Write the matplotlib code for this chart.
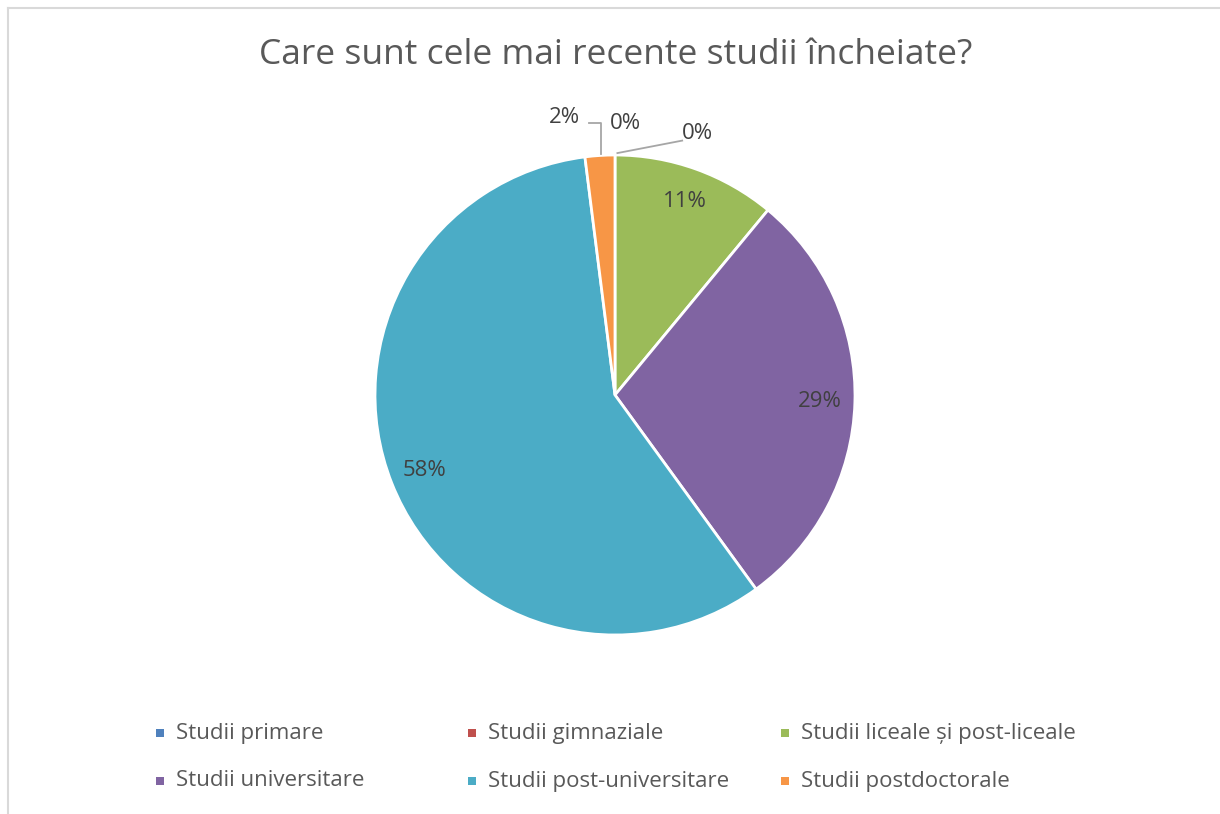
import numpy as np
import matplotlib.pyplot as plt
from matplotlib.lines import Line2D
from matplotlib.patches import Rectangle

# Datos
categorias = ['Studii primare', 'Studii gimnaziale', 'Studii liceale și post-liceale',
              'Studii universitare', 'Studii post-universitare', 'Studii postdoctorale']
valores = [0, 0, 11, 29, 58, 2]
colores = ['#4F81BD', '#C0504D', '#9BBB59', '#8064A2', '#4BACC6', '#F79646']
titulo = 'Care sunt cele mai recente studii încheiate?'

plt.rcParams['font.family'] = ['Open Sans', 'DejaVu Sans']
gris = '#595959'
oscuro = '#404040'

fig = plt.figure(figsize=(12.2, 8.14), dpi=100)
W, H = 1220, 814

# borde del gráfico (izquierda y arriba)
fig.add_artist(Line2D([8 / W, 8 / W], [0, 1 - 7.5 / H], color='#D9D9D9', lw=1.5))
fig.add_artist(Line2D([8 / W, 1], [1 - 7.5 / H, 1 - 7.5 / H], color='#D9D9D9', lw=1.5))

cx, cy, r = 615, 395, 240
ax = fig.add_axes([(cx - r) / W, (H - cy - r) / H, 2 * r / W, 2 * r / H])

total = sum(valores)
wedges, _ = ax.pie(valores, colors=colores, startangle=90, counterclock=False,
                   wedgeprops=dict(edgecolor='white', linewidth=2))
ax.set_xlim(-1, 1)
ax.set_ylim(-1, 1)
ax.set_aspect('equal')
ax.axis('off')

# etiquetas de porcentaje dentro de los sectores grandes
acum = 0
for v in valores:
    medio = np.deg2rad(90 - (acum + v / 2) / total * 360)
    acum += v
    if v >= 5:
        ax.text(0.855 * np.cos(medio), 0.855 * np.sin(medio), f'{v}%',
                ha='center', va='center', fontsize=16, color=oscuro)

# etiquetas pequeñas con líneas guía
ax.plot([-0.11, -0.058, -0.058], [1.135, 1.135, 1.005], color='#A6A6A6', lw=1.3, clip_on=False)
ax.text(-0.21, 1.155, f'{valores[5]}%', ha='center', va='center', fontsize=16, color=oscuro)
ax.text(0.045, 1.13, f'{valores[0]}%', ha='center', va='center', fontsize=16, color=oscuro)
ax.plot([0.01, 0.28], [1.008, 1.06], color='#A6A6A6', lw=1.3, clip_on=False)
ax.text(0.345, 1.09, f'{valores[1]}%', ha='center', va='center', fontsize=16, color=oscuro)

fig.text(616 / W, 1 - 55 / H, titulo, ha='center', va='center', fontsize=25.5, color=gris)

# leyenda (por filas, tres columnas)
col_x = [160, 472, 785]
fila_y = [733, 781]
for i, (nombre, c) in enumerate(zip(categorias, colores)):
    x = col_x[i % 3]
    y = fila_y[i // 3]
    fig.add_artist(Rectangle(((x - 4) / W, 1 - (y + 4) / H), 8 / W, 8 / H,
                             transform=fig.transFigure, facecolor=c, edgecolor='none'))
    fig.text((x + 16) / W, 1 - y / H, nombre, ha='left', va='center', fontsize=16, color=gris)

fig.savefig('out.png', dpi=100)
